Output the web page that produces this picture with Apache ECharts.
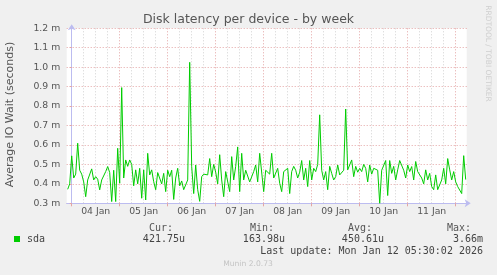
<!DOCTYPE html>
<html>
<head>
<meta charset="utf-8">
<script src="https://cdn.jsdelivr.net/npm/echarts@6/dist/echarts.min.js"></script>
<style>
html,body{margin:0;padding:0;background:#F0F0F0;}
#c{width:497px;height:275px;}
</style>
</head>
<body>
<div id="c"></div>
<script>
// ---- data (milliseconds of IO wait, hourly samples) ----
const seriesName = 'sda';
const startTime = Date.UTC(2026, 0, 3, 21, 30);   // left edge of the week view
const endTime = Date.UTC(2026, 0, 12, 5, 30);     // last update
const stepHours = 1;
const sdaValues = [
  0.372,0.40,0.544,0.43,0.45,0.609,0.47,0.45,0.41,0.334,
  0.42,0.43,0.477,0.42,0.437,0.424,0.369,0.42,0.43,0.463,
  0.489,0.458,0.309,0.47,0.309,0.583,0.403,0.895,0.43,0.523,
  0.49,0.523,0.50,0.39,0.472,0.40,0.48,0.326,0.472,0.317,
  0.557,0.446,0.472,0.411,0.37,0.458,0.463,0.40,0.454,0.36,
  0.47,0.437,0.47,0.32,0.43,0.48,0.39,0.415,0.37,0.365,
  0.42,1.025,0.489,0.35,0.497,0.37,0.31,0.437,0.45,0.44,
  0.446,0.53,0.437,0.50,0.46,0.40,0.55,0.42,0.334,0.463,
  0.47,0.36,0.54,0.42,0.49,0.59,0.36,0.557,0.42,0.47,
  0.463,0.41,0.40,0.463,0.497,0.41,0.557,0.566,0.36,0.47,
  0.48,0.45,0.557,0.43,0.42,0.48,0.403,0.36,0.463,0.47,
  0.48,0.35,0.463,0.49,0.47,0.43,0.46,0.52,0.42,0.48,
  0.386,0.52,0.42,0.48,0.463,0.50,0.755,0.47,0.42,0.463,
  0.37,0.49,0.454,0.42,0.437,0.497,0.446,0.437,0.47,0.785,
  0.472,0.48,0.523,0.437,0.49,0.46,0.48,0.463,0.50,0.48,
  0.41,0.497,0.45,0.48,0.49,0.47,0.30,0.47,0.47,0.52,
  0.34,0.52,0.454,0.49,0.42,0.472,0.52,0.53,0.47,0.43,
  0.497,0.463,0.489,0.42,0.515,0.463,0.472,0.43,0.40,0.472,
  0.42,0.454,0.386,0.37,0.446,0.37,0.38,0.42,0.48,0.40,
  0.53,0.472,0.42,0.463,0.41,0.386,0.38,0.35,0.545,0.422
];
const dayLabels = ['04 Jan','05 Jan','06 Jan','07 Jan','08 Jan','09 Jan','10 Jan','11 Jan'];
const yTickMin = 0.3, yTickMax = 1.2, yTickStep = 0.1;
const statHeaders = ['Cur:','Min:','Avg:','Max:'];
const statValues = ['421.75u','163.98u','450.61u','3.66m'];
const lastUpdate = 'Last update: Mon Jan 12 05:30:02 2026';
const titleText = 'Disk latency per device - by week';
const yAxisTitle = 'Average IO Wait (seconds)';
const watermark = 'RRDTOOL / TOBI OETIKER';
const footer = 'Munin 2.0.73';

// ---- derived: x measured in hours since 04 Jan 00:00 UTC ----
const HOUR = 3600e3;
const origin = Date.UTC(2026, 0, 4, 0, 0);
const xMin = (startTime - origin) / HOUR;
const xMax = (endTime - origin) / HOUR;
const seriesData = sdaValues.map((v, i) => [xMin + (i + 0.5) * stepHours, v]);
const sixHourTicks = [], midnightTicks = [], noonTicks = [];
for (let h = 0; h <= xMax; h += 6) sixHourTicks.push(h);
for (let h = 0; h <= xMax; h += 24) midnightTicks.push(h);
for (let k = 0; k < dayLabels.length; k++) noonTicks.push(k * 24 + 12);

const SANS = 'DejaVu Sans';
const MONO = 'DejaVu Sans Mono';
const MAJOR = '#e3a4a4';
const MINOR = '#d2d2d2';
const AXIS = '#bcbcf0';

const chart = echarts.init(document.getElementById('c'), null, {renderer: 'canvas'});
const headerX = [149, 250, 348, 447];
const valueRight = [185, 285, 384, 483];
const graphics = [];
statHeaders.forEach((h, k) => graphics.push({
  type: 'text', x: headerX[k], y: 228,
  style: {text: h, font: '10px "' + MONO + '"', fill: '#555', align: 'left', verticalAlign: 'middle'}
}));
statValues.forEach((v, k) => graphics.push({
  type: 'text', x: valueRight[k], y: 239.5,
  style: {text: v, font: '10px "' + MONO + '"', fill: '#444', align: 'right', verticalAlign: 'middle'}
}));
graphics.push({
  type: 'text', x: 483, y: 251.7,
  style: {text: lastUpdate, font: '10px "' + MONO + '"', fill: '#444', align: 'right', verticalAlign: 'middle'}
});
graphics.push({
  type: 'text', x: 248, y: 264,
  style: {text: footer, font: '7.6px "' + SANS + '"', fill: '#c4c4c4', align: 'center', verticalAlign: 'middle'}
});
graphics.push({
  type: 'text', x: 488, y: 53.5, rotation: -Math.PI / 2,
  style: {text: watermark, font: '7.5px "' + SANS + '"', fill: '#cfcfcf', align: 'center', verticalAlign: 'middle'}
});
graphics.push({
  type: 'text', x: 10.5, y: 114.5, rotation: Math.PI / 2,
  style: {text: yAxisTitle, font: '11px "' + SANS + '"', fill: '#555', align: 'center', verticalAlign: 'middle'}
});

chart.setOption({
  backgroundColor: '#F0F0F0',
  animation: false,
  title: {
    text: titleText, left: 'center', top: 13, padding: 0,
    textStyle: {fontFamily: SANS, fontSize: 12.5, fontWeight: 'normal', color: '#555'}
  },
  legend: {
    data: [seriesName], left: 14, top: 234, icon: 'rect', itemWidth: 6, itemHeight: 6,
    padding: 0, selectedMode: false,
    textStyle: {fontFamily: MONO, fontSize: 10, color: '#444', padding: [0, 0, 0, 2]}
  },
  grid: {
    left: 66.7, top: 28.3, width: 400, height: 175,
    show: true, backgroundColor: '#ffffff', borderWidth: 0, containLabel: false
  },
  xAxis: [{
    type: 'value', min: xMin, max: xMax, position: 'bottom',
    axisLine: {show: true, lineStyle: {color: AXIS, width: 1}, symbol: ['none', 'arrow'], symbolSize: [6, 6], symbolOffset: [0, 4]},
    axisTick: {show: false, customValues: sixHourTicks},
    axisLabel: {
      customValues: noonTicks, margin: 4, showMinLabel: true, showMaxLabel: true, hideOverlap: false,
      fontFamily: SANS, fontSize: 9.3, color: '#555',
      formatter: function (v) {
        const k = Math.round((v - 12) / 24);
        return dayLabels[k] || '';
      }
    },
    splitLine: {show: true, lineStyle: {color: [MAJOR, MINOR, MINOR, MINOR], type: [1, 2], width: 1}}
  }, {
    type: 'value', min: xMin, max: xMax, position: 'bottom',
    axisLine: {show: false},
    axisTick: {show: true, customValues: midnightTicks, length: 3, lineStyle: {color: MAJOR}},
    axisLabel: {show: false},
    splitLine: {show: false}
  }],
  yAxis: {
    type: 'value', min: yTickMin, max: yTickMax, interval: yTickStep,
    axisLine: {show: true, lineStyle: {color: AXIS, width: 1}, symbol: ['none', 'arrow'], symbolSize: [6, 6], symbolOffset: [0, 4]},
    axisTick: {show: true, length: 2, lineStyle: {color: MAJOR}},
    axisLabel: {
      margin: 6.5, fontFamily: SANS, fontSize: 9.3, color: '#555',
      formatter: v => v.toFixed(1) + ' m'
    },
    splitLine: {show: true, lineStyle: {color: MAJOR, type: [1, 2], width: 1}}
  },
  graphic: graphics,
  series: [{
    name: seriesName, type: 'line', data: seriesData, xAxisIndex: 0,
    showSymbol: false, symbol: 'none',
    lineStyle: {color: '#00CC00', width: 1},
    itemStyle: {color: '#00CC00'},
    z: 5
  }]
});
</script>
</body>
</html>
